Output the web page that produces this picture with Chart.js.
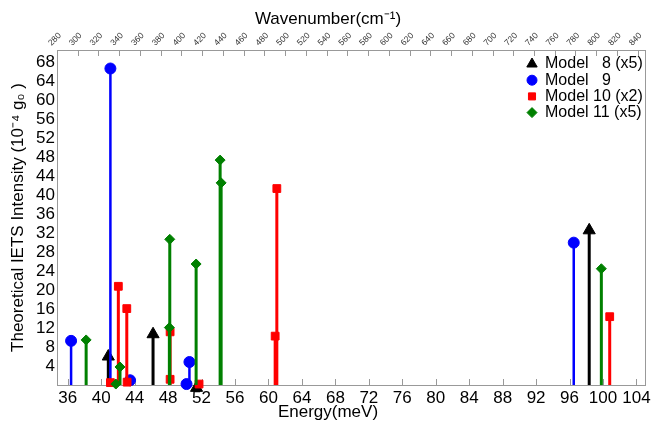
<!DOCTYPE html>
<html>
<head>
<meta charset="utf-8">
<script src="https://cdn.jsdelivr.net/npm/chart.js@4/dist/chart.umd.min.js"></script>
<style>
  html, body { margin: 0; padding: 0; background: #fff; }
  #chart { display: block; }
</style>
</head>
<body>
<canvas id="chart" width="652" height="421"></canvas>
<script>
// Stem data: energy (meV) and intensity (10^-4 g0)
const model8Energy = [40.85, 46.2, 51.4, 98.35];
const model8Value = [6.0, 10.7, -0.6, 32.6];

const model9Energy = [36.4, 41.1, 43.45, 50.2, 50.55, 96.5];
const model9Value = [9.3, 66.7, 1.0, 0.2, 4.85, 30.0];

const model10Energy = [41.1, 42.05, 43.06, 43.1, 48.24, 48.24, 51.7, 60.8, 61.0, 100.8];
const model10Value = [0.5, 20.8, 16.1, 0.6, 11.2, 1.2, 0.2, 10.3, 41.4, 14.4];

const model11Energy = [38.2, 41.75, 42.25, 48.15, 48.2, 51.35, 54.22, 54.34, 99.8];
const model11Value = [9.5, 0.2, 3.8, 12.1, 30.7, 25.5, 47.4, 42.6, 24.5];

const seriesLabels = ['Model   8 (x5)', 'Model   9', 'Model 10 (x2)', 'Model 11 (x5)'];

const MEV_TO_CM = 8.0655;
const WN_MIN = 280, WN_MAX = 848;   // top axis, cm-1
const FONT = '"Liberation Sans", Arial, sans-serif';

// every stem is 0 -> value, separated by a gap
function stems(energy, value) {
  const pts = [];
  energy.forEach((e, i) => {
    pts.push({ x: e, y: 0 }, { x: e, y: value[i] }, { x: e, y: null });
  });
  return pts;
}

function series(label, energy, value, color, style, r, width, order) {
  return {
    label: label,
    data: stems(energy, value),
    borderColor: color,
    backgroundColor: color,
    borderWidth: width,
    pointStyle: style,
    pointRadius: c => (c.dataIndex % 3 === 1 ? r : 0),
    pointHoverRadius: c => (c.dataIndex % 3 === 1 ? r : 0),
    pointBackgroundColor: color,
    pointBorderColor: color,
    pointBorderWidth: 1,
    tension: 0,
    spanGaps: false,
    clip: false,
    order: order,
    legendRadius: style === 'triangle' ? 6 : 5
  };
}

// inside tick marks and the grey frame
const framePlugin = {
  id: 'frame',
  beforeDatasetsDraw(chart) {
    const { ctx, chartArea: a, scales } = chart;
    ctx.save();
    ctx.strokeStyle = '#999999';
    ctx.lineWidth = 1;
    ctx.strokeRect(a.left + 0.5, a.top + 0.5, a.right - a.left - 1, a.bottom - a.top);
    ctx.beginPath();
    scales.x.ticks.forEach(t => {
      const px = Math.round(scales.x.getPixelForValue(t.value)) + 0.5;
      ctx.moveTo(px, a.bottom);
      ctx.lineTo(px, a.bottom - 6);
    });
    scales.x2.ticks.forEach(t => {
      const px = Math.round(scales.x2.getPixelForValue(t.value)) + 0.5;
      ctx.moveTo(px, a.top);
      ctx.lineTo(px, a.top + 6);
    });
    ctx.stroke();
    ctx.restore();
  }
};

const legendPlugin = {
  id: 'stemLegend',
  afterDraw(chart) {
    const c = chart.ctx;
    c.save();
    c.font = '16px ' + FONT;
    c.textBaseline = 'middle';
    chart.data.datasets.forEach((ds, i) => {
      const y = 64 + i * 16.2;
      c.fillStyle = ds.borderColor;
      c.strokeStyle = ds.borderColor;
      c.lineWidth = 1;
      Chart.helpers.drawPoint(c, { pointStyle: ds.pointStyle, radius: ds.legendRadius, rotation: 0, borderWidth: 1 }, 532, y);
      c.fillStyle = '#000';
      c.fillText(ds.label, 545, y);
    });
    c.restore();
  }
};

const TITLE_PAD_TOP = 9;

function noSidePadding(s) {
  s.paddingLeft = 0;
  s.paddingRight = 0;
}

new Chart(document.getElementById('chart'), {
  type: 'line',
  data: {
    datasets: [
      series(seriesLabels[0], model8Energy, model8Value, '#000000', 'triangle', 7, 3, 4),
      series(seriesLabels[1], model9Energy, model9Value, '#0000ff', 'circle', 5.5, 2.5, 3),
      series(seriesLabels[2], model10Energy, model10Value, '#ff0000', 'rect', 5.5, 3, 2),
      series(seriesLabels[3], model11Energy, model11Value, '#008000', 'rectRot', 5, 3, 1)
    ]
  },
  options: {
    responsive: false,
    animation: false,
    events: [],
    layout: { padding: { left: 10, right: 6, top: 0, bottom: 0 } },
    plugins: {
      legend: { display: false },
      tooltip: { enabled: false },
      title: {
        display: true,
        text: 'Wavenumber(cm⁻¹)',
        color: '#000',
        font: { family: FONT, size: 17, weight: 'normal', lineHeight: 1.2 },
        padding: { top: TITLE_PAD_TOP, bottom: 0 }
      },
      subtitle: {
        display: true,
        position: 'bottom',
        text: 'Energy(meV)',
        color: '#000',
        font: { family: FONT, size: 17, weight: 'normal', lineHeight: 1 },
        padding: 0
      }
    },
    scales: {
      x: {
        type: 'linear',
        position: 'bottom',
        min: WN_MIN / MEV_TO_CM,
        max: WN_MAX / MEV_TO_CM,
        grid: { display: false, drawTicks: false },
        border: { display: false },
        ticks: {
          stepSize: 4,
          includeBounds: false,
          autoSkip: false,
          maxRotation: 0,
          padding: 3,
          color: '#000',
          font: { family: FONT, size: 17 }
        },
        afterFit: s => { s.height = 19; noSidePadding(s); }
      },
      x2: {
        type: 'linear',
        position: 'top',
        min: WN_MIN,
        max: WN_MAX,
        grid: { display: false, drawTicks: false },
        border: { display: false },
        ticks: {
          stepSize: 20,
          includeBounds: false,
          autoSkip: false,
          minRotation: 45,
          maxRotation: 45,
          padding: 2,
          color: '#333',
          font: { family: FONT, size: 8.5 }
        },
        afterFit: s => { s.height = 50 - (TITLE_PAD_TOP + 17 * 1.2); noSidePadding(s); }
      },
      y: {
        min: 0,
        max: 70.6,
        grid: { display: false, drawTicks: false },
        border: { display: false },
        ticks: {
          stepSize: 4,
          includeBounds: false,
          autoSkip: false,
          padding: 2,
          color: '#000',
          font: { family: FONT, size: 17 },
          callback: v => (v === 0 ? '' : v)
        },
        title: {
          display: true,
          text: 'Theoretical IETS Intensity (10⁻⁴ g₀ )',
          color: '#000',
          font: { family: FONT, size: 17, lineHeight: 1 },
          padding: 0
        },
        afterFit: s => { s.width = 47; }
      }
    }
  },
  plugins: [framePlugin, legendPlugin]
});
</script>
</body>
</html>
